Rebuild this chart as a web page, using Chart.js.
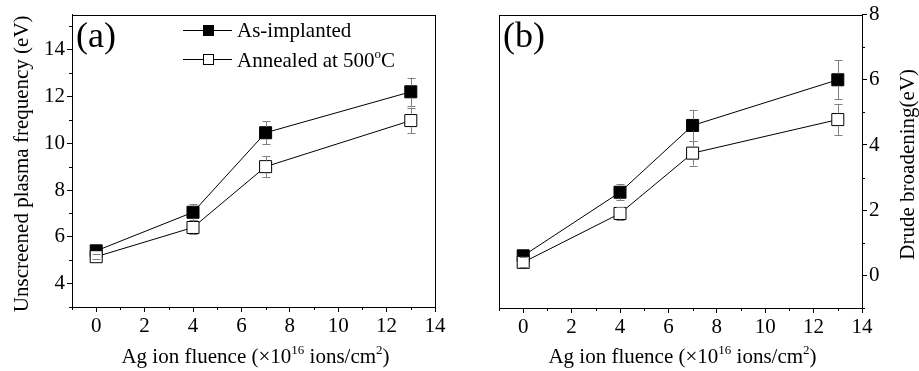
<!DOCTYPE html>
<html><head><meta charset="utf-8">
<script src="https://cdn.jsdelivr.net/npm/chart.js@4/dist/chart.umd.min.js"></script>
<style>
html,body{margin:0;padding:0;background:#fff;overflow:hidden;width:919px;height:371px}
#ca{position:absolute;left:0;top:0}
#cb{position:absolute;left:460px;top:0}
</style></head><body>
<canvas id="ca" width="460" height="371"></canvas>
<canvas id="cb" width="459" height="371"></canvas>
<script>
// ---- data ----
const fluence = [0, 4, 7, 13];
const plasmaAsImplanted = [5.4, 7.05, 10.45, 12.2];
const plasmaAnnealed = [5.15, 6.4, 9.0, 10.97];
const plasmaErrAsImplanted = [0.1, 0.35, 0.5, 0.6];
const plasmaErrAnnealed = [0.1, 0.3, 0.45, 0.55];
const drudeAsImplanted = [0.6, 2.55, 4.6, 6.0];
const drudeAnnealed = [0.4, 1.9, 3.75, 4.78];
const drudeErrAsImplanted = [0.1, 0.25, 0.47, 0.6];
const drudeErrAnnealed = [0.15, 0.2, 0.38, 0.48];
const xTicks = [0, 2, 4, 6, 8, 10, 12, 14];
const xMinorTicks = [-1, 1, 3, 5, 7, 9, 11, 13];
const yTicksA = [4, 6, 8, 10, 12, 14];
const yMinorTicksA = [3, 5, 7, 9, 11, 13, 15];
const yTicksB = [0, 2, 4, 6, 8];
const yMinorTicksB = [-1, 1, 3, 5, 7];
const seriesNames = ['As-implanted', 'Annealed at 500'];

const FONT = '"Liberation Serif", "Times New Roman", serif';
const ERR_COLOR = '#808080';
const MARK_R = 8.5;
const TXT = 21;

function pts(vals) { return fluence.map((x, i) => ({x: x, y: vals[i]})); }

function drawSupText(ctx, parts, x, y, size, align) {
  let total = 0;
  const widths = parts.map(p => {
    ctx.font = (p[1] ? Math.round(size * 0.6) : size) + 'px ' + FONT;
    const w = ctx.measureText(p[0]).width; total += w; return w;
  });
  let cx = align === 'center' ? x - total / 2 : x;
  ctx.textAlign = 'left';
  ctx.textBaseline = 'alphabetic';
  parts.forEach((p, i) => {
    ctx.font = (p[1] ? Math.round(size * 0.6) : size) + 'px ' + FONT;
    ctx.fillText(p[0], cx, p[1] ? y - size * 0.42 : y);
    cx += widths[i];
  });
}

function makePlugin(cfg) {
  return {
    id: 'custom_' + cfg.name,
    afterDatasetsDraw(chart) {
      const ctx = chart.ctx, xs = chart.scales.x, ys = chart.scales.y;
      ctx.save();
      ctx.strokeStyle = ERR_COLOR; ctx.lineWidth = 1;
      cfg.errs.forEach((errArr, di) => {
        const vals = chart.data.datasets[di].data;
        const filled = di === 1;
        vals.forEach((p, j) => {
          const x = Math.round(xs.getPixelForValue(p.x)) + 0.5;
          const yc = ys.getPixelForValue(p.y);
          const yt = ys.getPixelForValue(p.y + errArr[j]);
          const yb = ys.getPixelForValue(p.y - errArr[j]);
          const half = MARK_R * Math.SQRT1_2;
          ctx.beginPath();
          if (yt < yc - half) { ctx.moveTo(x, yc - half); ctx.lineTo(x, yt); }
          if (yb > yc + half) { ctx.moveTo(x, yc + half); ctx.lineTo(x, yb); }
          const capT = Math.round(yt) + 0.5, capB = Math.round(yb) + 0.5;
          if (!filled || yt < yc - half) { ctx.moveTo(x - 4, capT); ctx.lineTo(x + 4, capT); }
          if (!filled || yb > yc + half) { ctx.moveTo(x - 4, capB); ctx.lineTo(x + 4, capB); }
          ctx.stroke();
        });
      });
      ctx.restore();
    },
    afterDraw(chart) {
      const ctx = chart.ctx, a = chart.chartArea, xs = chart.scales.x, ys = chart.scales.y;
      ctx.save();
      ctx.strokeStyle = '#000'; ctx.lineWidth = 1;
      ctx.strokeRect(Math.round(a.left) + 0.5, Math.round(a.top) + 0.5,
                     Math.round(a.right) - Math.round(a.left), Math.round(a.bottom) - Math.round(a.top));
      ctx.beginPath();
      xMinorTicks.forEach(v => {
        const x = Math.round(xs.getPixelForValue(v)) + 0.5;
        ctx.moveTo(x, a.bottom); ctx.lineTo(x, a.bottom + 3);
      });
      cfg.yMinor.forEach(v => {
        const y = Math.round(ys.getPixelForValue(v)) + 0.5;
        if (cfg.right) { ctx.moveTo(a.right, y); ctx.lineTo(a.right + 3, y); }
        else { ctx.moveTo(a.left, y); ctx.lineTo(a.left - 3, y); }
      });
      ctx.stroke();
      ctx.fillStyle = '#000';
      drawSupText(ctx, [['Ag ion fluence (\u00d710', false], ['16', true], [' ions/cm', false], ['2', true], [')', false]],
        (a.left + a.right) / 2 + 2, 363, TXT, 'center');
      ctx.save();
      ctx.translate(cfg.yTitleX, (a.top + a.bottom) / 2 + 3);
      ctx.rotate(-Math.PI / 2);
      ctx.font = TXT + 'px ' + FONT;
      ctx.textAlign = 'center'; ctx.textBaseline = 'middle';
      ctx.fillText(cfg.yTitle, 0, 0);
      ctx.restore();
      ctx.font = '36px ' + FONT;
      ctx.textAlign = 'left'; ctx.textBaseline = 'middle';
      ctx.fillText(cfg.label, a.left + 4, 38);
      if (cfg.legend) {
        const rows = [{y: 30, fill: '#000'}, {y: 59, fill: '#fff'}];
        rows.forEach((r, i) => {
          ctx.strokeStyle = '#000'; ctx.lineWidth = 1;
          ctx.beginPath();
          ctx.moveTo(183, r.y + 0.5); ctx.lineTo(232, r.y + 0.5);
          ctx.stroke();
          ctx.fillStyle = r.fill;
          ctx.fillRect(203, r.y - 5, 11, 11);
          ctx.strokeRect(203.5, r.y - 4.5, 10, 10);
          ctx.fillStyle = '#000';
          if (i === 0) {
            ctx.font = TXT + 'px ' + FONT; ctx.textBaseline = 'middle'; ctx.textAlign = 'left';
            ctx.fillText(seriesNames[0], 237, r.y + 1);
          } else {
            drawSupText(ctx, [[seriesNames[1], false], ['o', true], ['C', false]], 237, r.y + 8, TXT, 'left');
          }
        });
      }
      ctx.restore();
    }
  };
}

function makeChart(id, cfg) {
  const datasets = [
    {label: seriesNames[1], data: pts(cfg.ann), order: 0, borderColor: '#000', borderWidth: 1,
     pointStyle: 'rect', pointRadius: MARK_R, pointBackgroundColor: '#fff', pointBorderColor: '#000', pointBorderWidth: 1},
    {label: seriesNames[0], data: pts(cfg.imp), order: 1, borderColor: '#000', borderWidth: 1,
     pointStyle: 'rect', pointRadius: MARK_R, pointBackgroundColor: '#000', pointBorderColor: '#000', pointBorderWidth: 1}
  ];
  return new Chart(document.getElementById(id), {
    type: 'line',
    data: {datasets},
    options: {
      responsive: false, animation: false, devicePixelRatio: 1,
      layout: {padding: cfg.padding},
      plugins: {legend: {display: false}, tooltip: {enabled: false}},
      scales: {
        x: {
          type: 'linear', position: 'bottom', min: -1, max: 14,
          afterBuildTicks: s => { s.ticks = xTicks.map(v => ({value: v})); },
          afterFit: s => { s.height = cfg.xHeight; },
          grid: {drawOnChartArea: false, drawTicks: true, tickLength: 5, color: '#000'},
          border: {display: true, color: '#000', width: 1},
          ticks: {color: '#000', font: {family: FONT, size: TXT}, padding: 2, maxRotation: 0}
        },
        y: {
          type: 'linear', position: cfg.right ? 'right' : 'left', min: cfg.yMin, max: cfg.yMax,
          afterBuildTicks: s => { s.ticks = cfg.yTicks.map(v => ({value: v})); },
          afterFit: s => { s.width = cfg.yWidth; },
          grid: {drawOnChartArea: false, drawTicks: true, tickLength: 5, color: '#000'},
          border: {display: true, color: '#000', width: 1},
          ticks: {color: '#000', font: {family: FONT, size: TXT}, padding: 2}
        }
      }
    },
    plugins: [makePlugin(cfg)]
  });
}

makeChart('ca', {
  name: 'a', imp: plasmaAsImplanted, ann: plasmaAnnealed, errs: [plasmaErrAnnealed, plasmaErrAsImplanted],
  yMin: 3, yMax: 15.5, yTicks: yTicksA, yMinor: yMinorTicksA, right: false,
  padding: {left: 0, right: 25, top: 13, bottom: 0}, xHeight: 64, yWidth: 72,
  yTitle: 'Unscreened plasma frequency (eV)', yTitleX: 22, label: '(a)', legend: true
});
makeChart('cb', {
  name: 'b', imp: drudeAsImplanted, ann: drudeAnnealed, errs: [drudeErrAnnealed, drudeErrAsImplanted],
  yMin: -1, yMax: 8, yTicks: yTicksB, yMinor: yMinorTicksB, right: true,
  padding: {left: 39, right: 0, top: 13, bottom: 0}, xHeight: 63, yWidth: 57,
  yTitle: 'Drude broadening(eV)', yTitleX: 448, label: '(b)', legend: false
});
</script>
</body></html>
